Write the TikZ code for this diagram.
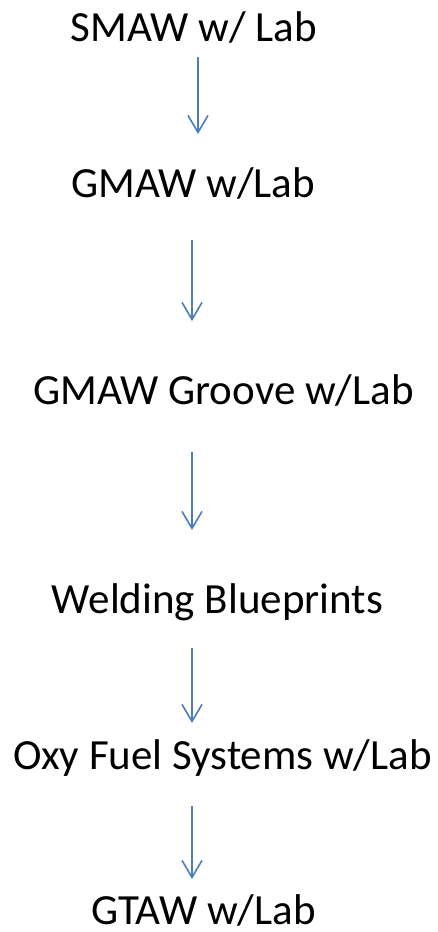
\documentclass[tikz,border=0pt]{standalone}
\usepackage{fontspec}
\setmainfont{Carlito}
\usetikzlibrary{arrows.meta}
\definecolor{arrblue}{RGB}{74,126,187}
\tikzset{
  lbl/.style={anchor=base, inner sep=0pt, font=\fontsize{43}{50}\selectfont, text=black},
  arr/.style={draw=arrblue, line width=1.6pt, -{Straight Barb[length=17pt,width=20pt,line width=1.6pt]}}
}
\begin{document}
\begin{tikzpicture}[x=1pt,y=-1pt]
\useasboundingbox (0,0) rectangle (438,932);
\node[lbl] (n1) at (194,41) {SMAW w/ Lab};
\node[lbl] (n2) at (193,197) {GMAW w/Lab};
\node[lbl] (n3) at (223.5,404) {GMAW Groove w/Lab};
\node[lbl] (n4) at (217.5,613) {Welding Blueprints};
\node[lbl] (n5) at (222.5,769) {Oxy Fuel Systems w/Lab};
\node[lbl] (n6) at (203.5,924) {GTAW w/Lab};
\coordinate (a1s) at (198,57);  \coordinate (a1e) at (198,134);
\coordinate (a2s) at (192,240); \coordinate (a2e) at (192,321);
\coordinate (a3s) at (192,452); \coordinate (a3e) at (192,530);
\coordinate (a4s) at (192,648); \coordinate (a4e) at (192,723);
\coordinate (a5s) at (192,806); \coordinate (a5e) at (192,879);
\draw[arr] (a1s) -- (a1e);
\draw[arr] (a2s) -- (a2e);
\draw[arr] (a3s) -- (a3e);
\draw[arr] (a4s) -- (a4e);
\draw[arr] (a5s) -- (a5e);
\end{tikzpicture}
\end{document}
